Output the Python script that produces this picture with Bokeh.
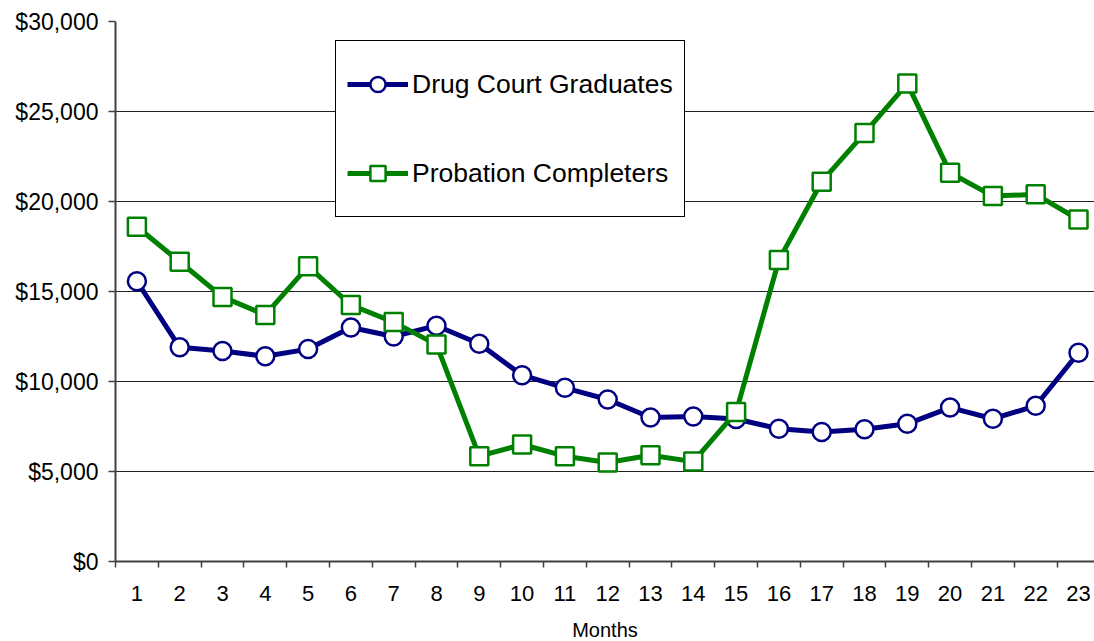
from bokeh.plotting import figure
from bokeh.models import (Range1d, FixedTicker, NumeralTickFormatter, Legend,
                          LegendItem, ColumnDataSource)
from bokeh.embed import file_html
from bokeh.resources import INLINE

months = list(range(1, 24))
drug_court = [15570, 11900, 11700, 11400, 11800, 13000, 12500, 13100, 12100,
              10350, 9650, 9000, 8000, 8050, 7920, 7370, 7200, 7350, 7650,
              8550, 7930, 8650, 11600]
probation = [18600, 16650, 14700, 13700, 16400, 14250, 13300, 12050, 5850,
             6500, 5850, 5500, 5900, 5550, 8300, 16750, 21100, 23800, 26550,
             21600, 20300, 20400, 19000]
y_ticks = [0, 5000, 10000, 15000, 20000, 25000, 30000]
series_names = ["Drug Court Graduates", "Probation Completers"]

FONT = "Liberation Sans"
NAVY = "#000080"
GREEN = "#008000"

p = figure(width=1094, height=641, output_backend="svg", toolbar_location=None,
           x_range=Range1d(0.5, 0.5 + 979 / 42.8), y_range=Range1d(0, 30000),
           frame_width=979, frame_height=540,
           min_border_left=115, min_border_top=21, min_border_bottom=80,
           min_border_right=0)
p.background_fill_color = "white"
p.border_fill_color = "white"
p.outline_line_color = None

src = ColumnDataSource(dict(m=months, dc=drug_court, pr=probation))

l1 = p.line("m", "dc", source=src, line_color=NAVY, line_width=5)
s1 = p.scatter("m", "dc", source=src, marker="circle", size=18,
               fill_color="white", line_color=NAVY, line_width=2.5)
l2 = p.line("m", "pr", source=src, line_color=GREEN, line_width=5)
s2 = p.scatter("m", "pr", source=src, marker="square", size=18,
               fill_color="white", line_color=GREEN, line_width=2.5)

# axes
p.xaxis.ticker = FixedTicker(ticks=months,
                             minor_ticks=[m - 0.5 for m in months])
p.xaxis.major_tick_out = 0
p.xaxis.major_tick_in = 0
p.xaxis.minor_tick_out = 6
p.xaxis.minor_tick_in = 0
p.xaxis.minor_tick_line_color = "#404040"
p.xaxis.minor_tick_line_width = 1.5
p.xaxis.major_label_text_font = FONT
p.xaxis.major_label_text_font_size = "22px"
p.xaxis.major_label_text_color = "black"
p.xaxis.major_label_standoff = 18
p.xaxis.axis_label = "Months"
p.xaxis.axis_label_text_font = FONT
p.xaxis.axis_label_text_font_size = "20px"
p.xaxis.axis_label_text_font_style = "normal"
p.xaxis.axis_label_text_color = "black"
p.xaxis.axis_label_standoff = 15
p.xaxis.axis_line_color = "#404040"
p.xaxis.axis_line_width = 2

p.yaxis.ticker = FixedTicker(ticks=y_ticks)
p.yaxis.formatter = NumeralTickFormatter(format="$0,0")
p.yaxis.minor_tick_line_color = None
p.yaxis.major_tick_out = 7
p.yaxis.major_tick_in = 0
p.yaxis.major_tick_line_color = "#404040"
p.yaxis.major_tick_line_width = 1.5
p.yaxis.major_label_text_font = FONT
p.yaxis.major_label_text_font_size = "23px"
p.yaxis.major_label_text_color = "black"
p.yaxis.major_label_standoff = 10
p.yaxis.axis_line_color = "#404040"
p.yaxis.axis_line_width = 2

p.xgrid.grid_line_color = None
p.ygrid.grid_line_color = "#202020"
p.ygrid.grid_line_width = 1

legend = Legend(items=[LegendItem(label=series_names[0], renderers=[l1, s1]),
                       LegendItem(label=series_names[1], renderers=[l2, s2])],
                location=(220, 344))
legend.label_text_font = FONT
legend.label_text_font_size = "26.5px"
legend.label_text_color = "black"
legend.glyph_width = 61
legend.glyph_height = 38
legend.label_height = 64
legend.label_standoff = 4
legend.spacing = 25
legend.padding = 11
legend.margin = 0
legend.border_line_color = "black"
legend.border_line_width = 1
legend.border_line_alpha = 1
legend.background_fill_color = "white"
legend.background_fill_alpha = 1
p.add_layout(legend, "center")

open("out.html", "w").write(file_html(p, INLINE))
